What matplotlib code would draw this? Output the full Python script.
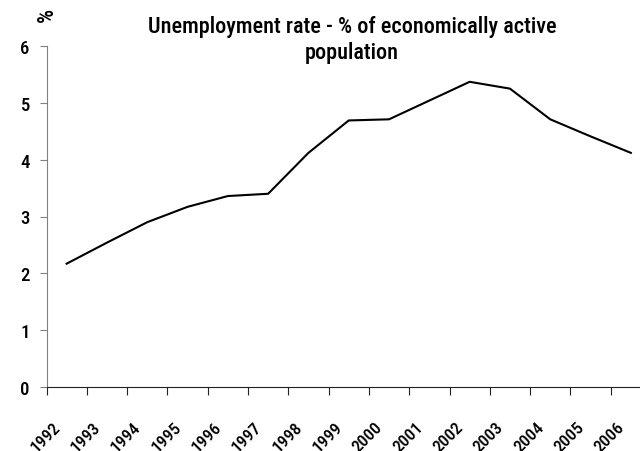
import matplotlib
matplotlib.use('Agg')
import matplotlib.pyplot as plt
from matplotlib import font_manager
from matplotlib.transforms import ScaledTranslation

years = ['1992', '1993', '1994', '1995', '1996', '1997', '1998', '1999',
         '2000', '2001', '2002', '2003', '2004', '2005', '2006']
rate = [2.17, 2.54, 2.90, 3.17, 3.36, 3.40, 4.12, 4.69,
        4.71, 5.04, 5.37, 5.25, 4.71, 4.41, 4.12]

names = {f.name for f in font_manager.fontManager.ttflist}
fam = ['Roboto Condensed', 'Liberation Sans Narrow', 'DejaVu Sans Condensed', 'Roboto']
fam = [f for f in fam if f in names][:1] + ['DejaVu Sans']
plt.rcParams['font.family'] = fam
plt.rcParams['font.weight'] = 'medium'

fig = plt.figure(figsize=(6.4, 4.52), dpi=100)
# the original chart is cut off at the right edge
ax = fig.add_axes([46.5 / 640, 64 / 452, 604.5 / 640, 341 / 452])

x = list(range(len(years)))
ax.plot(x, rate, color='black', lw=1.5)

ax.set_xlim(-0.5, len(years) - 0.5)
ax.set_ylim(0, 6)
ax.set_yticks(range(7))
# category axis: ticks between the years
ax.set_xticks([i - 0.5 for i in x])
ax.set_xticklabels([])
ax.tick_params(axis='x', length=5.5, color='#222222')
ax.tick_params(axis='y', length=5, color='#808080', labelsize=13.5, pad=7)
for lab in ax.get_yticklabels():
    lab.set_fontweight('medium')

# year labels, rotated, placed under each category
off = ScaledTranslation(-14 / 100, -32 / 100, fig.dpi_scale_trans)
for i, yr in zip(x, years):
    ax.text(i, 0, yr, transform=ax.get_xaxis_transform() + off,
            rotation=45, ha='right', va='top', rotation_mode='anchor',
            fontsize=12.5, fontweight='medium', clip_on=False)

for s in ['top', 'right']:
    ax.spines[s].set_visible(False)
ax.spines['left'].set_color('#808080')
ax.spines['bottom'].set_color('#222222')

fig.text(352 / 640, 1 - 40 / 452, 'Unemployment rate - % of economically active\npopulation',
         ha='center', va='center', fontsize=16, fontweight='medium', linespacing=1.25)
fig.text(47 / 640, 1 - 15 / 452, '%', rotation=90, ha='center', va='center',
         fontsize=16, fontweight='medium')

fig.savefig('out.png', dpi=100)
